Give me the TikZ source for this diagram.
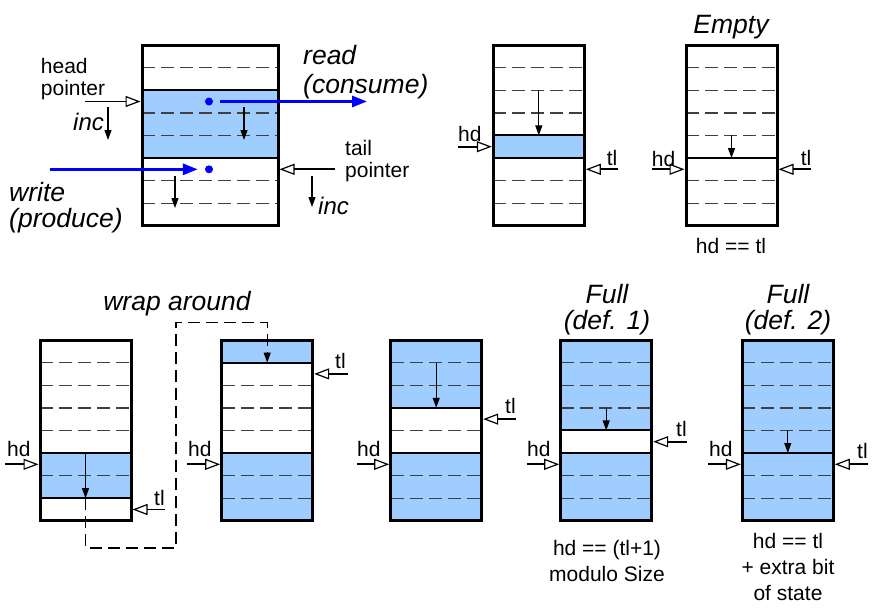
\documentclass[tikz,border=0pt]{standalone}
\usepackage{fontspec}
\setmainfont{Liberation Sans}
\usetikzlibrary{arrows.meta}

\definecolor{slotblue}{RGB}{160,205,255}
\newcommand{\slotht}{22.6}
\newcommand{\bufwd}{91}

\tikzset{
  buf/.style={draw, line width=3pt, inner sep=0pt,
    minimum width=\bufwd pt, minimum height=8*\slotht pt},
  slot/.style={fill=slotblue},
  sep/.style={draw=black!75, line width=1.4pt, dash pattern=on 13pt off 6pt},
  edge/.style={line width=2pt},
  ptr/.style={line width=1.8pt, -{Triangle[open, length=15pt, width=11pt, line width=1.2pt]}},
  adv/.style={line width=1.1pt, -{Triangle[length=10pt, width=7pt]}},
  flow/.style={draw=blue, line width=3pt, -{Triangle[length=15pt, width=11pt]}},
  dot/.style={circle, fill=blue, inner sep=0pt, minimum size=8pt},
  wrap/.style={line width=1.1pt, dash pattern=on 12pt off 6pt, -{Triangle[length=10pt, width=7pt]}},
  lbl/.style={font=\fontsize{21}{22}\selectfont, inner sep=0pt},
  cond/.style={font=\fontsize{21}{26}\selectfont, inner sep=0pt, align=center},
  note/.style={font=\fontsize{26.5}{26}\selectfont\itshape, inner sep=0pt},
  incl/.style={font=\fontsize{24}{26}\selectfont\itshape, inner sep=0pt},
}

\begin{document}
\begin{tikzpicture}[x=1pt, y=-1pt]
\useasboundingbox (0,0) rectangle (873,608);

% big buffer with read and write
\begin{scope}[shift={(142,45)}]
  \fill[slot] (0,2*\slotht) rectangle (136,5*\slotht);
  \foreach \r in {1,3,4,6,7} \draw[sep] (0,\r*\slotht) -- (136,\r*\slotht);
  \draw[edge] (0,2*\slotht) -- (136,2*\slotht) (0,5*\slotht) -- (136,5*\slotht);
  \node[buf, minimum width=136pt] (b1) at (68,4*\slotht) {};
  \draw[adv] (102,62) -- (102,95);
  \draw[adv] (33,131) -- (33,163);
  \node[dot] (rdot) at (67,2.5*\slotht) {};
  \node[dot] (wdot) at (67,5.5*\slotht) {};
  \coordinate (hp) at (-57,2.5*\slotht);
  \coordinate (tp) at (193,5.5*\slotht);
  \coordinate (rend) at (225,2.5*\slotht);
  \coordinate (wsrc) at (-92,5.5*\slotht);
\end{scope}
\draw[ptr] (hp) -- (hp -| b1.west);
\draw[ptr] (tp) -- (tp -| b1.east);
\draw[flow, shorten <=7pt] (rdot) -- (rend);
\draw[flow, shorten >=7pt] (wsrc) -- (wdot);
\draw[adv] (108,107) -- (108,140);
\draw[adv] (312,176) -- (312,207);
\node[lbl, align=left, anchor=north west] (headlbl) at (40.7,58) {head\\pointer};
\node[lbl, align=left, anchor=north west] (taillbl) at (345,140) {tail\\pointer};
\node[incl, anchor=base west] (inc1) at (73,130) {inc};
\node[incl, anchor=base west] (inc2) at (318,214) {inc};
\node[note, align=left, anchor=north west] (readlbl) at (303,45) {read\\[3pt](consume)};
\node[note, align=left, anchor=north west] (writelbl) at (9,182) {write\\(produce)};

% one slot in use
\begin{scope}[shift={(493.3,45)}]
  \fill[slot] (0,4*\slotht) rectangle (\bufwd,5*\slotht);
  \foreach \r in {1,2,3,6,7} \draw[sep] (0,\r*\slotht) -- (\bufwd,\r*\slotht);
  \draw[edge] (0,4*\slotht) -- (\bufwd,4*\slotht) (0,5*\slotht) -- (\bufwd,5*\slotht);
  \node[buf] (b2) at (\bufwd/2,4*\slotht) {};
  \draw[adv] (\bufwd/2,2*\slotht) -- (\bufwd/2,4*\slotht);
  \coordinate (b2h) at (-35,4.5*\slotht);
  \coordinate (b2t) at (\bufwd+34,5.5*\slotht);
\end{scope}
\draw[ptr] (b2h) -- (b2h -| b2.west);
\draw[ptr] (b2t) -- (b2t -| b2.east);
\node[lbl, anchor=base west] (b2hd) at (458,141.7) {hd};
\node[lbl, anchor=base west] (b2tl) at (606.7,165) {tl};

% empty
\begin{scope}[shift={(686,45)}]
  \foreach \r in {1,2,3,4,6,7} \draw[sep] (0,\r*\slotht) -- (\bufwd,\r*\slotht);
  \draw[edge] (0,5*\slotht) -- (\bufwd,5*\slotht);
  \node[buf] (b3) at (\bufwd/2,4*\slotht) {};
  \draw[adv] (\bufwd/2,4*\slotht) -- (\bufwd/2,5*\slotht);
  \coordinate (b3h) at (-34,5.5*\slotht);
  \coordinate (b3t) at (\bufwd+34,5.5*\slotht);
\end{scope}
\draw[ptr] (b3h) -- (b3h -| b3.west);
\draw[ptr] (b3t) -- (b3t -| b3.east);
\node[lbl, anchor=base west] (b3hd) at (651.7,166.7) {hd};
\node[lbl, anchor=base west] (b3tl) at (800.7,165) {tl};
\node[note, anchor=base] (emptylbl) at (731,33.3) {Empty};
\node[lbl, anchor=base] (emptyeq) at (731,253.3) {hd == tl};

% wrap around, before
\begin{scope}[shift={(40,340)}]
  \fill[slot] (0,5*\slotht) rectangle (\bufwd,7*\slotht);
  \foreach \r in {1,2,3,4,6} \draw[sep] (0,\r*\slotht) -- (\bufwd,\r*\slotht);
  \draw[edge] (0,5*\slotht) -- (\bufwd,5*\slotht) (0,7*\slotht) -- (\bufwd,7*\slotht);
  \node[buf] (c1) at (\bufwd/2,4*\slotht) {};
  \draw[adv] (\bufwd/2,5*\slotht) -- (\bufwd/2,7*\slotht);
  \coordinate (wrapsrc) at (\bufwd/2,7*\slotht);
  \coordinate (c1h) at (-35,5.5*\slotht);
  \coordinate (c1t) at (\bufwd+34,7.5*\slotht);
\end{scope}
\draw[ptr] (c1h) -- (c1h -| c1.west);
\draw[ptr] (c1t) -- (c1t -| c1.east);
\node[lbl, anchor=base west] (c1hd) at (7,456.7) {hd};
\node[lbl, anchor=base west] (c1tl) at (154,505) {tl};

% wrap around, after
\begin{scope}[shift={(221.7,340)}]
  \fill[slot] (0,0) rectangle (\bufwd,\slotht) (0,5*\slotht) rectangle (\bufwd,8*\slotht);
  \foreach \r in {2,3,4,6,7} \draw[sep] (0,\r*\slotht) -- (\bufwd,\r*\slotht);
  \draw[edge] (0,\slotht) -- (\bufwd,\slotht) (0,5*\slotht) -- (\bufwd,5*\slotht);
  \node[buf] (c2) at (\bufwd/2,4*\slotht) {};
  \coordinate (wrapdst) at (\bufwd/2,\slotht);
  \coordinate (c2h) at (-35,5.5*\slotht);
  \coordinate (c2t) at (\bufwd+35,1.5*\slotht);
\end{scope}
\draw[ptr] (c2h) -- (c2h -| c2.west);
\draw[ptr] (c2t) -- (c2t -| c2.east);
\draw[wrap] (wrapsrc) |- (176,548) -- (176,322.7) -| (wrapdst);
\node[lbl, anchor=base west] (c2hd) at (188,456.7) {hd};
\node[lbl, anchor=base west] (c2tl) at (335,368.3) {tl};
\node[note, anchor=base] (wraplbl) at (177,310) {wrap around};

% filling up
\begin{scope}[shift={(390.7,340)}]
  \fill[slot] (0,0) rectangle (\bufwd,3*\slotht) (0,5*\slotht) rectangle (\bufwd,8*\slotht);
  \foreach \r in {1,2,4,6,7} \draw[sep] (0,\r*\slotht) -- (\bufwd,\r*\slotht);
  \draw[edge] (0,3*\slotht) -- (\bufwd,3*\slotht) (0,5*\slotht) -- (\bufwd,5*\slotht);
  \node[buf] (c3) at (\bufwd/2,4*\slotht) {};
  \draw[adv] (\bufwd/2,\slotht) -- (\bufwd/2,3*\slotht);
  \coordinate (c3h) at (-34,5.5*\slotht);
  \coordinate (c3t) at (\bufwd+34,3.5*\slotht);
\end{scope}
\draw[ptr] (c3h) -- (c3h -| c3.west);
\draw[ptr] (c3t) -- (c3t -| c3.east);
\node[lbl, anchor=base west] (c3hd) at (357,456.7) {hd};
\node[lbl, anchor=base west] (c3tl) at (505,413.3) {tl};

% full, definition 1
\begin{scope}[shift={(560.7,340)}]
  \fill[slot] (0,0) rectangle (\bufwd,4*\slotht) (0,5*\slotht) rectangle (\bufwd,8*\slotht);
  \foreach \r in {1,2,3,6,7} \draw[sep] (0,\r*\slotht) -- (\bufwd,\r*\slotht);
  \draw[edge] (0,4*\slotht) -- (\bufwd,4*\slotht) (0,5*\slotht) -- (\bufwd,5*\slotht);
  \node[buf] (c4) at (\bufwd/2,4*\slotht) {};
  \draw[adv] (\bufwd/2,3*\slotht) -- (\bufwd/2,4*\slotht);
  \coordinate (c4h) at (-34,5.5*\slotht);
  \coordinate (c4t) at (\bufwd+35,4.5*\slotht);
\end{scope}
\draw[ptr] (c4h) -- (c4h -| c4.west);
\draw[ptr] (c4t) -- (c4t -| c4.east);
\node[lbl, anchor=base west] (c4hd) at (527,456.7) {hd};
\node[lbl, anchor=base west] (c4tl) at (676,436.7) {tl};
\node[note, align=center, anchor=north] (full1) at (607,284) {Full\\(def. 1)};
\node[cond, anchor=north] (full1eq) at (607,540) {hd == (tl+1)\\modulo Size};

% full, definition 2
\begin{scope}[shift={(742.3,340)}]
  \fill[slot] (0,0) rectangle (\bufwd,8*\slotht);
  \foreach \r in {1,2,3,4,6,7} \draw[sep] (0,\r*\slotht) -- (\bufwd,\r*\slotht);
  \draw[edge] (0,5*\slotht) -- (\bufwd,5*\slotht);
  \node[buf] (c5) at (\bufwd/2,4*\slotht) {};
  \draw[adv] (\bufwd/2,4*\slotht) -- (\bufwd/2,5*\slotht);
  \coordinate (c5h) at (-34,5.5*\slotht);
  \coordinate (c5t) at (\bufwd+35,5.5*\slotht);
\end{scope}
\draw[ptr] (c5h) -- (c5h -| c5.west);
\draw[ptr] (c5t) -- (c5t -| c5.east);
\node[lbl, anchor=base west] (c5hd) at (709,456.7) {hd};
\node[lbl, anchor=base west] (c5tl) at (857,458.3) {tl};
\node[note, align=center, anchor=north] (full2) at (788,284) {Full\\(def. 2)};
\node[cond, anchor=north] (full2eq) at (788,533) {hd == tl\\+ extra bit\\of state};
\end{tikzpicture}
\end{document}
